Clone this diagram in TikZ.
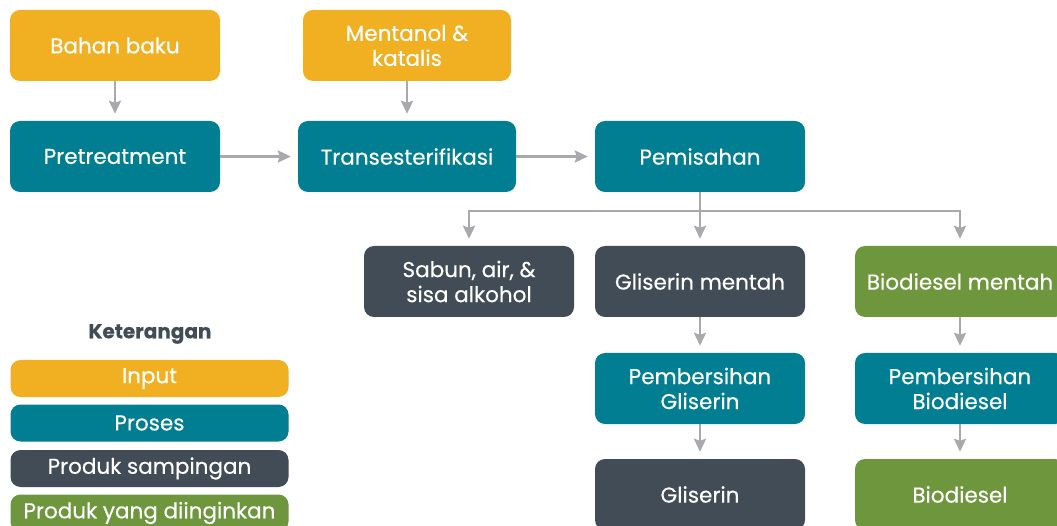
\documentclass[tikz,border=0pt]{standalone}
\usepackage{fontspec}
\setmainfont{Poppins}[FakeBold=0.4]
\usetikzlibrary{arrows.meta}
\definecolor{inputc}{HTML}{F1AF22}
\definecolor{prosesc}{HTML}{017E91}
\definecolor{sampingc}{HTML}{414C56}
\definecolor{produkc}{HTML}{6D963D}
\definecolor{panahc}{HTML}{A7A9AC}

\begin{document}
\begin{tikzpicture}[x=1pt, y=-1pt,
	every node/.style={font=\fontsize{21.5}{25}\selectfont, text=white, align=center},
	box/.style={rounded corners=10pt, minimum width=210pt, minimum height=71pt, inner sep=0pt},
	inbox/.style={box, fill=inputc},
	procbox/.style={box, fill=prosesc},
	sidebox/.style={box, fill=sampingc},
	goalbox/.style={box, fill=produkc},
	legbox/.style={rounded corners=10pt, minimum width=278pt, minimum height=37pt, inner sep=0pt},
	arr/.style={draw=panahc, line width=2.5pt, -{Stealth[length=13pt, width=12pt, inset=2pt]}, shorten >=7pt},
	>={Stealth[length=13pt]}]
	\useasboundingbox (0,0) rectangle (1057,526);
	\clip (0,0) rectangle (1057,526);
	% input
	\node[inbox] (bahan) at (115,45.5) {Bahan baku};
	\node[inbox, minimum width=208pt] (mentanol) at (407,45.5) {Mentanol \&\\katalis};
	% proses utama
	\node[procbox] (pre) at (115,156.5) {Pretreatment};
	\node[procbox, minimum width=218pt] (trans) at (407,156.5) {Transesterifikasi};
	\node[procbox] (pisah) at (700,156.5) {Pemisahan};
	% hasil pemisahan
	\node[sidebox] (sabun) at (469,281.5) {Sabun, air, \&\\sisa alkohol};
	\node[sidebox] (glimentah) at (700,281.5) {Gliserin mentah};
	\node[goalbox] (biomentah) at (960,281.5) {Biodiesel mentah};
	\node[procbox] (bersihgli) at (700,388.5) {Pembersihan\\Gliserin};
	\node[procbox] (bersihbio) at (960,388.5) {Pembersihan\\Biodiesel};
	\node[sidebox] (gli) at (700,494.5) {Gliserin};
	\node[goalbox] (bio) at (960,494.5) {Biodiesel};
	\coordinate (cabang) at (700,211);
	% panah
	\draw[arr] (bahan) -- (pre);
	\draw[arr] (mentanol) -- (mentanol |- trans.north);
	\draw[arr] (pre) -- (trans);
	\draw[arr] (trans) -- (pisah);
	\draw[draw=panahc, line width=2.5pt] (pisah.south) -- (cabang);
	\draw[arr] (cabang) -| (sabun.north);
	\draw[arr] (cabang) -- (glimentah.north);
	\draw[arr] (cabang) -| (biomentah.north);
	\draw[arr] (glimentah) -- (bersihgli);
	\draw[arr] (bersihgli) -- (gli);
	\draw[arr] (biomentah) -- (bersihbio);
	\draw[arr] (bersihbio) -- (bio);
	% keterangan
	\node[text=sampingc, font=\fontsize{20}{25}\selectfont\bfseries] (ket) at (150,334) {Keterangan};
	\node[legbox, fill=inputc] (lin) at (149.5,378.5) {Input};
	\node[legbox, fill=prosesc] (lpro) at (149.5,423) {Proses};
	\node[legbox, fill=sampingc] (lsamp) at (149.5,468.5) {Produk sampingan};
	\node[legbox, fill=produkc] (lprod) at (149.5,513) {Produk yang diinginkan};
\end{tikzpicture}
\end{document}
